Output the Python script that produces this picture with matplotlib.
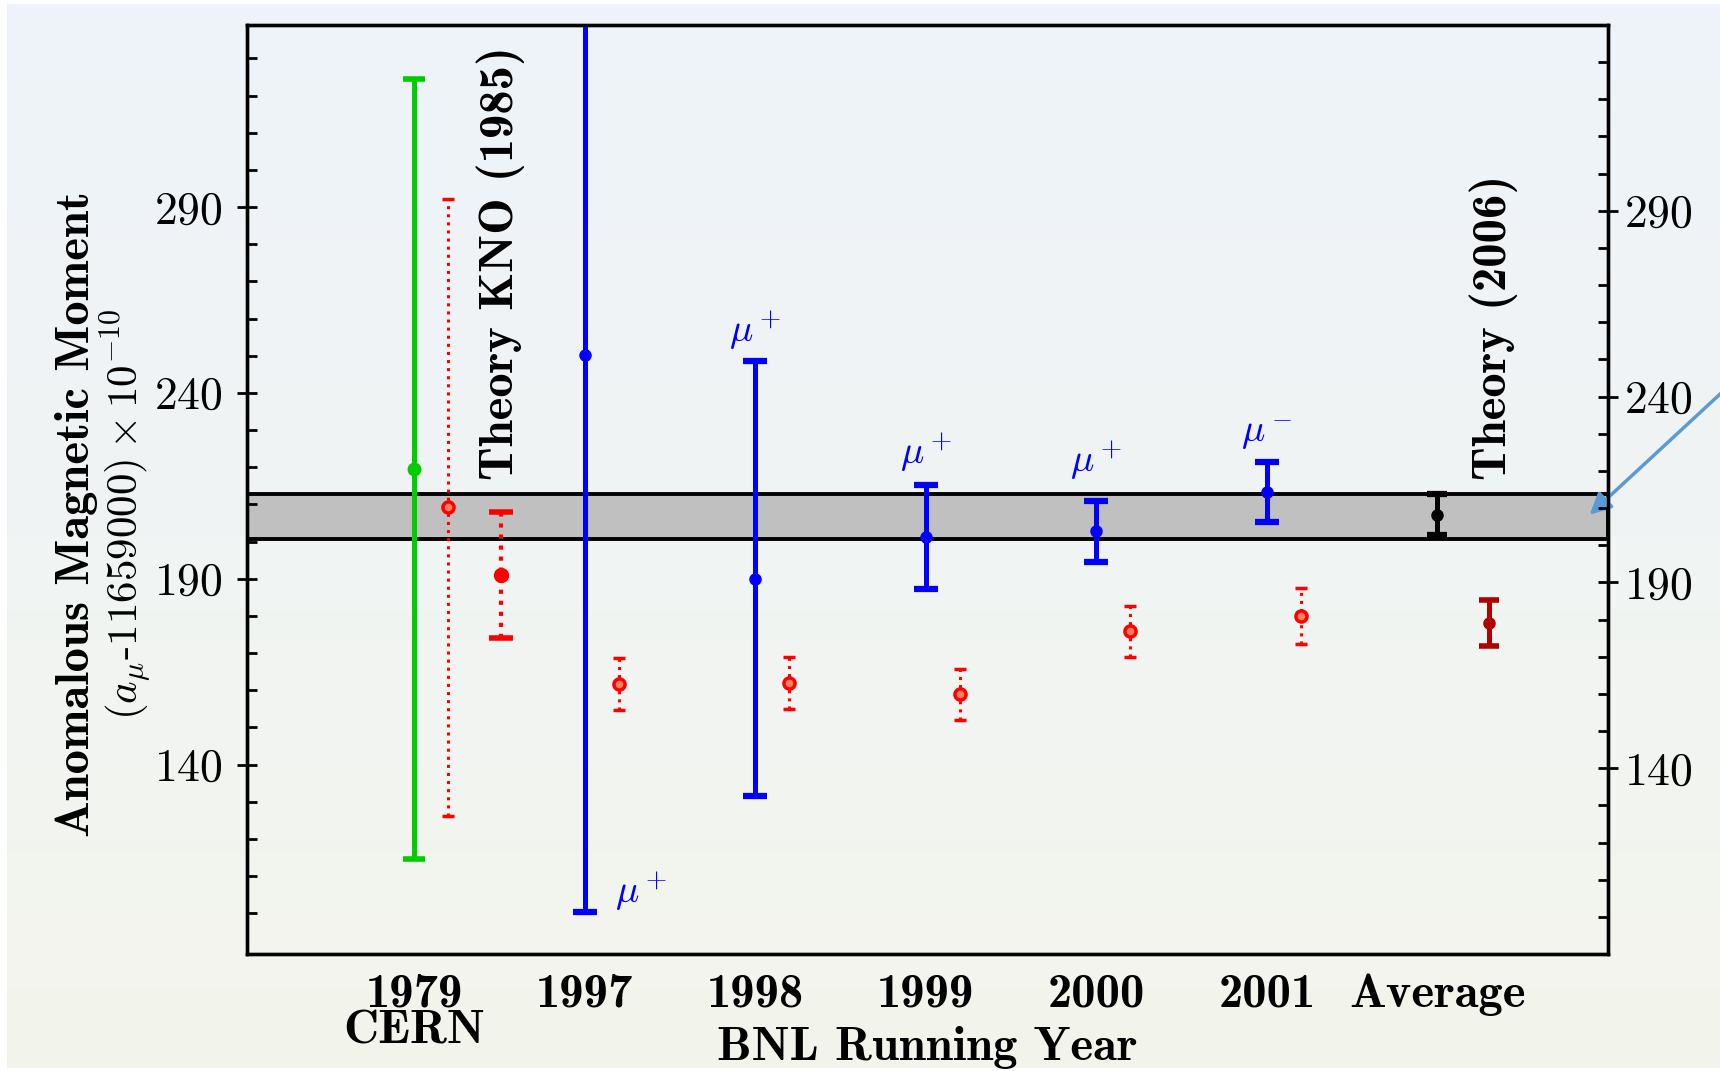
#!/usr/bin/env python3

import numpy as np
import matplotlib
matplotlib.use('Agg')
import matplotlib.pyplot as plt
from matplotlib.colors import LinearSegmentedColormap

plt.rcParams['font.family'] = 'cmr10'
plt.rcParams['mathtext.fontset'] = 'cm'
plt.rcParams['axes.unicode_minus'] = False
plt.rcParams['axes.formatter.use_mathtext'] = True

# measured values, (a_mu - 11659000) x 1e-10
categories = ['1979\nCERN', '1997', '1998', '1999', '2000', '2001', 'Average']
exp_values = [219.5, 250.3, 190.0, 201.2, 202.8, 213.3, 207.2]
exp_errors = [105.0, 150.0, 58.5, 14.0, 8.2, 8.0, 5.5]

# red dotted points next to each measurement
old_theory_values = [209.2, 161.7, 162.0, 158.9, 175.8, 180.0]
old_theory_errors = [83.0, 7.0, 7.0, 6.8, 6.9, 7.5]

kno_value, kno_error = 191.0, 17.0
theory_2006_value, theory_2006_error = 178.1, 6.2
band_low, band_high = 200.8, 212.8

muon_labels = [r'$\mu^+$', r'$\mu^+$', r'$\mu^+$', r'$\mu^+$', r'$\mu^-$']
muon_label_x = [1.33, 2.0, 3.0, 4.0, 5.0]
muon_label_y = [106.0, 257.0, 224.0, 222.0, 229.0]

x = np.arange(len(categories))

fig = plt.figure(figsize=(17.2, 10.71), dpi=100, facecolor='white')

# soft gradient background
bg = fig.add_axes([0.004, 0.003, 0.996, 0.993])
grad = np.linspace(0, 1, 256).reshape(-1, 1)
bg.imshow(grad, aspect='auto', extent=[0, 1, 0, 1],
          cmap=LinearSegmentedColormap.from_list('bg', ['#eef3fa', '#f3f5ec']))
bg.axis('off')

ax = fig.add_axes([0.1436, 0.1092, 0.7913, 0.8675])
ax.patch.set_visible(False)
ax.set_xlim(-0.98, 7.0)
ax.set_ylim(89, 339)

ax.axhspan(band_low, band_high, facecolor='#c0c0c0', edgecolor='black', lw=2.8, zorder=1)

# CERN
ax.errorbar(x[0], exp_values[0], yerr=exp_errors[0], fmt='o', color='#00cc00', ms=9,
            elinewidth=3.6, capsize=8, capthick=4, zorder=4)
# BNL years
ax.errorbar(x[1:6], exp_values[1:6], yerr=exp_errors[1:6], fmt='o', color='blue', ms=8,
            elinewidth=3.6, capsize=8.5, capthick=4.5, zorder=4)
# Average
ax.errorbar(x[6], exp_values[6], yerr=exp_errors[6], fmt='o', color='black', ms=8,
            elinewidth=3.6, capsize=7.5, capthick=4.5, zorder=4)

# old theory, dotted
eb = ax.errorbar(x[:6] + 0.2, old_theory_values, yerr=old_theory_errors, fmt='o', color='red',
                 ms=8, mfc='#ff8060', mec='red', mew=2.5, elinewidth=2.2, capsize=4,
                 capthick=3, zorder=3)
eb[2][0].set_linestyle(':')

eb = ax.errorbar(0.51, kno_value, yerr=kno_error, fmt='o', color='red', ms=10,
                 elinewidth=3, capsize=8.5, capthick=4, zorder=3)
eb[2][0].set_linestyle(':')

ax.errorbar(6.3, theory_2006_value, yerr=theory_2006_error, fmt='o', color='#b00000', ms=8,
            elinewidth=3.6, capsize=7.5, capthick=4, zorder=3)

for lbl, lx, ly in zip(muon_labels, muon_label_x, muon_label_y):
    ax.text(lx, ly, lbl, color='blue', fontsize=28, ha='center', va='center', zorder=5)

ax.text(0.51, 216.5, 'Theory KNO (1985)', rotation=90, fontsize=35, fontfamily='cmb10',
        ha='center', va='bottom')
ax.text(6.33, 216.5, 'Theory (2006)', rotation=90, fontsize=35, fontfamily='cmb10',
        ha='center', va='bottom')

ax.annotate('', xy=(6.88, 206.7), xytext=(7.9, 250), annotation_clip=False,
            arrowprops=dict(arrowstyle='-|>', color='#5b9bd5', lw=2.5, mutation_scale=32))

for s in ax.spines.values():
    s.set_linewidth(2.4)

ax.set_xticks(x)
ax.set_xticklabels(categories, fontfamily='cmb10', fontsize=35)
ax.get_xticklabels()[0].set_linespacing(0.85)
ax.tick_params(axis='x', length=0, pad=14)

yticks = [140, 190, 240, 290]
yminor = np.arange(100, 340, 10)
ax.set_yticks(yticks)
ax.set_yticks(yminor, minor=True)
ax.tick_params(axis='y', which='major', direction='inout', length=15, width=2, labelsize=33, pad=10)
ax.tick_params(axis='y', which='minor', direction='in', length=7, width=2)

ax2 = ax.twinx()
ax2.set_ylim(90, 340)
ax2.set_yticks(yticks)
ax2.set_yticks(yminor, minor=True)
ax2.tick_params(axis='y', which='major', direction='inout', length=15, width=2, labelsize=33, pad=4)
ax2.tick_params(axis='y', which='minor', direction='in', length=7, width=2)
for s in ax2.spines.values():
    s.set_linewidth(2.4)

fig.text(0.539, 0.022, 'BNL Running Year', fontfamily='cmb10', fontsize=35, ha='center', va='center')
fig.text(0.0445, 0.52, 'Anomalous Magnetic Moment', fontfamily='cmb10', fontsize=35,
         rotation=90, ha='center', va='center')
fig.text(0.0735, 0.52, r'$(a_\mu$-11659000$)\times 10^{-10}$', fontsize=31,
         rotation=90, ha='center', va='center')

fig.savefig('out.png', dpi=100, facecolor=fig.get_facecolor())
